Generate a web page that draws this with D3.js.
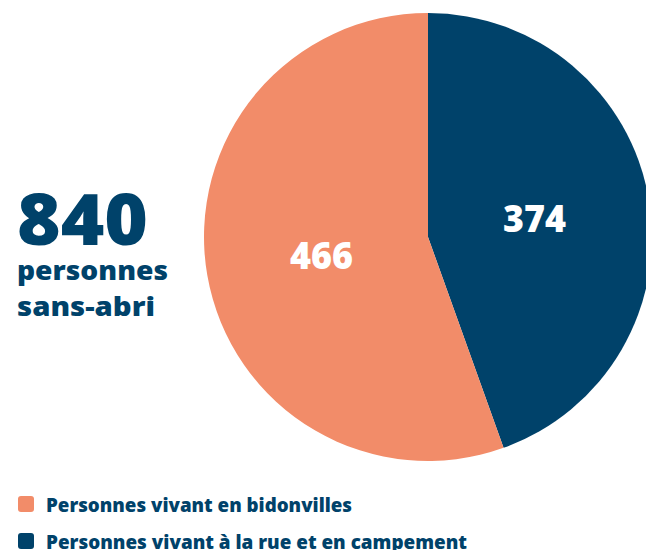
<!DOCTYPE html>
<meta charset="utf-8">
<style>
    body { margin: 0; background: #fff; }
    text { font-family: "Open Sans", "Lato", "DejaVu Sans", sans-serif; font-weight: 800; }
</style>
<body>
<svg id="chart" width="646" height="550"></svg>
</body>
<script src="https://d3js.org/d3.v7.min.js"></script>
<script>
    // data
    var categories = ["Personnes vivant à la rue et en campement", "Personnes vivant en bidonvilles"];
    var values = [374, 466];
    var colors = ["#00426a", "#f28c69"];
    var total = 840;
    var legendOrder = [1, 0];
    var legendWidths = [306, 421];

    var navy = "#00426a";
    var cx = 428, cy = 237, radius = 224;

    var svg = d3.select("#chart");

    var pie = d3.pie().sort(null).value(function(d) { return d; });
    var arc = d3.arc().innerRadius(0).outerRadius(radius);
    var labelArc = d3.arc().innerRadius(108).outerRadius(108);

    var g = svg.append("g").attr("transform", "translate(" + cx + "," + cy + ")");

    var arcs = pie(values);

    g.selectAll("path")
        .data(arcs)
        .enter().append("path")
        .attr("d", arc)
        .attr("fill", function(d, i) { return colors[i]; });

    g.selectAll("text.val")
        .data(arcs)
        .enter().append("text")
        .attr("class", "val")
        .attr("transform", function(d) { return "translate(" + labelArc.centroid(d) + ")"; })
        .attr("text-anchor", "middle")
        .attr("dy", "0.36em")
        .attr("fill", "#fff")
        .attr("textLength", 63)
        .attr("lengthAdjust", "spacingAndGlyphs")
        .style("font-size", "37px")
        .text(function(d) { return d.data; });

    // big total
    svg.append("text")
        .attr("x", 17).attr("y", 245)
        .attr("fill", navy)
        .attr("textLength", 131)
        .attr("lengthAdjust", "spacingAndGlyphs")
        .style("font-size", "70px")
        .text(total);

    svg.append("text")
        .attr("x", 17).attr("y", 280)
        .attr("fill", navy)
        .attr("textLength", 151)
        .attr("lengthAdjust", "spacingAndGlyphs")
        .style("font-size", "27px")
        .text("personnes");

    svg.append("text")
        .attr("x", 17).attr("y", 316)
        .attr("fill", navy)
        .attr("textLength", 138)
        .attr("lengthAdjust", "spacingAndGlyphs")
        .style("font-size", "27px")
        .text("sans-abri");

    // legend
    var legend = svg.selectAll("g.legend")
        .data(legendOrder)
        .enter().append("g")
        .attr("class", "legend")
        .attr("transform", function(d, i) { return "translate(18," + (496 + i * 37) + ")"; });

    legend.append("rect")
        .attr("width", 16).attr("height", 16)
        .attr("rx", 3)
        .attr("fill", function(d) { return colors[d]; });

    legend.append("text")
        .attr("x", 28).attr("y", 15.5)
        .attr("fill", navy)
        .attr("textLength", function(d, i) { return legendWidths[i]; })
        .attr("lengthAdjust", "spacingAndGlyphs")
        .style("font-size", "20px")
        .text(function(d) { return categories[d]; });
</script>
